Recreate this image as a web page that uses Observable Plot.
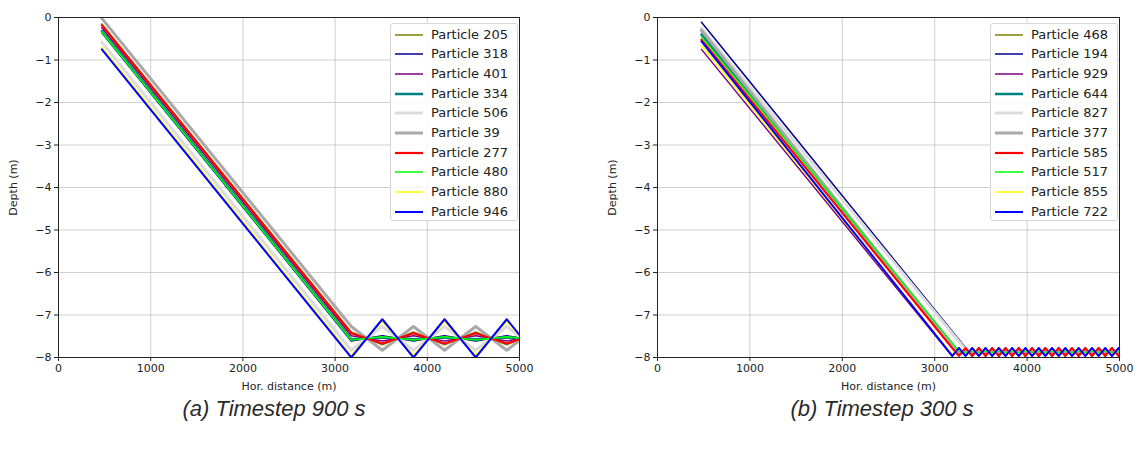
<!DOCTYPE html>
<html><head><meta charset="utf-8">
<script src="https://cdn.jsdelivr.net/npm/d3@7"></script>
<script src="https://cdn.jsdelivr.net/npm/@observablehq/plot@0.6"></script>
<style>
body{margin:0;background:#fff;}
#wrap{position:relative;width:1140px;height:451px;overflow:hidden;font-family:"DejaVu Sans",sans-serif;}
.panel{position:absolute;top:0;}
.legend{position:absolute;top:23px;width:128px;height:198px;border:1px solid #d6d6d6;border-radius:3px;background:rgba(255,255,255,0.85);box-sizing:border-box;}
.row{position:absolute;left:0;height:20px;width:128px;}
.row svg{position:absolute;left:2px;top:0;}
.row span{position:absolute;left:40px;top:1px;font-size:13px;line-height:17px;color:#222;white-space:nowrap;font-family:"DejaVu Sans",sans-serif;}
.caption{position:absolute;top:396px;width:300px;text-align:center;font-family:"Liberation Sans",Arial,sans-serif;font-style:italic;font-size:22px;color:#2a2a2a;}
</style></head>
<body><div id="wrap"></div>
<script>
// ---------- shared ticks ----------
const xTicks = [0, 1000, 2000, 3000, 4000, 5000];
const yTicks = [0, -1, -2, -3, -4, -5, -6, -7, -8];

// ---------- panel (a): timestep 900 s ----------
const namesA = ["Particle 205","Particle 318","Particle 401","Particle 334","Particle 506","Particle 39","Particle 277","Particle 480","Particle 880","Particle 946"];
const distA = [470, 3175, 3512, 3850, 4187, 4525, 4862, 5000];
const depthA205 = [-0.15, -7.40, -7.70, -7.40, -7.70, -7.40, -7.70, -7.58];
const depthA318 = [-0.36, -7.61, -7.49, -7.61, -7.49, -7.61, -7.49, -7.54];
const depthA401 = [-0.24, -7.49, -7.61, -7.49, -7.61, -7.49, -7.61, -7.56];
const depthA334 = [-0.32, -7.57, -7.53, -7.57, -7.53, -7.57, -7.53, -7.55];
const depthA506 = [-0.58, -7.83, -7.27, -7.83, -7.27, -7.83, -7.27, -7.50];
const depthA39  = [-0.02, -7.27, -7.83, -7.27, -7.83, -7.27, -7.83, -7.60];
const depthA277 = [-0.18, -7.43, -7.67, -7.43, -7.67, -7.43, -7.67, -7.57];
const depthA480 = [-0.34, -7.59, -7.51, -7.59, -7.51, -7.59, -7.51, -7.54];
const depthA880 = [-0.70, -7.95, -7.15, -7.95, -7.15, -7.95, -7.15, -7.48];
const depthA946 = [-0.75, -8.00, -7.10, -8.00, -7.10, -8.00, -7.10, -7.47];

// ---------- panel (b): timestep 300 s (null = particle not yet at the bottom) ----------
const namesB = ["Particle 468","Particle 194","Particle 929","Particle 644","Particle 827","Particle 377","Particle 585","Particle 517","Particle 855","Particle 722"];
const distB = [476, 3190, 3262, 3334, 3406, 3478, 3550, 3622, 3694, 3766, 3838, 3910, 3982, 4054, 4126, 4198, 4270, 4342, 4414, 4486, 4558, 4630, 4702, 4774, 4846, 4918, 4990, 5000];
const depthB468 = [-0.33, null,-7.90, -7.84,-7.90, -7.84,-7.90, -7.84,-7.90, -7.84,-7.90, -7.84,-7.90, -7.84,-7.90, -7.84,-7.90, -7.84,-7.90, -7.84,-7.90, -7.84,-7.90, -7.84,-7.90, -7.84,-7.90, -7.89];
const depthB194 = [-0.11, null,null, -7.77,-7.97, -7.77,-7.97, -7.77,-7.97, -7.77,-7.97, -7.77,-7.97, -7.77,-7.97, -7.77,-7.97, -7.77,-7.97, -7.77,-7.97, -7.77,-7.97, -7.77,-7.97, -7.77,-7.97, -7.94];
const depthB929 = [-0.75, -7.97,-7.77, -7.97,-7.77, -7.97,-7.77, -7.97,-7.77, -7.97,-7.77, -7.97,-7.77, -7.97,-7.77, -7.97,-7.77, -7.97,-7.77, -7.97,-7.77, -7.97,-7.77, -7.97,-7.77, -7.97,-7.77, -7.80];
const depthB644 = [-0.40, null,-7.89, -7.85,-7.89, -7.85,-7.89, -7.85,-7.89, -7.85,-7.89, -7.85,-7.89, -7.85,-7.89, -7.85,-7.89, -7.85,-7.89, -7.85,-7.89, -7.85,-7.89, -7.85,-7.89, -7.85,-7.89, -7.88];
const depthB827 = [-0.25, null,null, -7.81,-7.93, -7.81,-7.93, -7.81,-7.93, -7.81,-7.93, -7.81,-7.93, -7.81,-7.93, -7.81,-7.93, -7.81,-7.93, -7.81,-7.93, -7.81,-7.93, -7.81,-7.93, -7.81,-7.93, -7.91];
const depthB377 = [-0.30, null,-7.92, -7.82,-7.92, -7.82,-7.92, -7.82,-7.92, -7.82,-7.92, -7.82,-7.92, -7.82,-7.92, -7.82,-7.92, -7.82,-7.92, -7.82,-7.92, -7.82,-7.92, -7.82,-7.92, -7.82,-7.92, -7.91];
const depthB585 = [-0.52, -7.78,-7.96, -7.78,-7.96, -7.78,-7.96, -7.78,-7.96, -7.78,-7.96, -7.78,-7.96, -7.78,-7.96, -7.78,-7.96, -7.78,-7.96, -7.78,-7.96, -7.78,-7.96, -7.78,-7.96, -7.78,-7.96, -7.93];
const depthB517 = [-0.45, null,-7.85, -7.89,-7.85, -7.89,-7.85, -7.89,-7.85, -7.89,-7.85, -7.89,-7.85, -7.89,-7.85, -7.89,-7.85, -7.89,-7.85, -7.89,-7.85, -7.89,-7.85, -7.89,-7.85, -7.89,-7.85, -7.86];
const depthB855 = [-0.66, -7.93,-7.81, -7.93,-7.81, -7.93,-7.81, -7.93,-7.81, -7.93,-7.81, -7.93,-7.81, -7.93,-7.81, -7.93,-7.81, -7.93,-7.81, -7.93,-7.81, -7.93,-7.81, -7.93,-7.81, -7.93,-7.81, -7.83];
const depthB722 = [-0.56, -7.96,-7.78, -7.96,-7.78, -7.96,-7.78, -7.96,-7.78, -7.96,-7.78, -7.96,-7.78, -7.96,-7.78, -7.96,-7.78, -7.96,-7.78, -7.96,-7.78, -7.96,-7.78, -7.96,-7.78, -7.96,-7.78, -7.81];

// ---------- styles (same order in both panels) ----------
const lineColors = ["#808000", "#00008b", "#800080", "#008080", "#dcdcdc", "#a9a9a9", "#ff0000", "#00ff00", "#ffff00", "#0000ff"];
const lineWidths = [1.5, 1.5, 1.5, 2.5, 3, 3, 2.2, 1.5, 1.5, 2];

const seriesA = [depthA205, depthA318, depthA401, depthA334, depthA506, depthA39, depthA277, depthA480, depthA880, depthA946];
const seriesB = [depthB468, depthB194, depthB929, depthB644, depthB827, depthB377, depthB585, depthB517, depthB855, depthB722];

const fmtY = d => d < 0 ? "\u2212" + Math.abs(d) : String(d);
const fmtX = d => String(d);

function makePanel(xs, series, ml, mr, width) {
  const marks = [
    Plot.gridX(xTicks, {stroke: "#b0b0b0", strokeOpacity: 0.6}),
    Plot.gridY(yTicks, {stroke: "#b0b0b0", strokeOpacity: 0.6})
  ];
  series.forEach((ys, k) => {
    const rows = ys.map((y, i) => ({x: xs[i], y})).filter(r => r.y !== null);
    marks.push(Plot.line(rows, {x: "x", y: "y", stroke: lineColors[k], strokeWidth: lineWidths[k], clip: true}));
  });
  marks.push(Plot.frame({stroke: "#222", strokeWidth: 1}));
  marks.push(Plot.axisX(xTicks, {tickSize: 4, tickPadding: 3, tickFormat: fmtX, label: "Hor. distance (m)", labelAnchor: "center", labelArrow: "none", labelOffset: 32}));
  marks.push(Plot.axisY(yTicks, {tickSize: 4, tickPadding: 3, tickFormat: fmtY, label: "Depth (m)", labelAnchor: "center", labelArrow: "none", labelOffset: 49}));
  return Plot.plot({
    width, height: 395,
    marginLeft: ml, marginRight: mr, marginTop: 17, marginBottom: 38,
    x: {domain: [0, 5000]},
    y: {domain: [-8, 0]},
    style: {fontFamily: "DejaVu Sans, sans-serif", fontSize: "11px", color: "#222", background: "transparent"},
    marks
  });
}

function makeLegend(names, left) {
  const box = document.createElement("div");
  box.className = "legend";
  box.style.left = left + "px";
  names.forEach((n, k) => {
    const r = document.createElement("div");
    r.className = "row";
    r.style.top = (0.5 + k * 19.67) + "px";
    r.innerHTML = `<svg width="32" height="20"><line x1="2" x2="30" y1="10" y2="10" stroke="${lineColors[k]}" stroke-width="${lineWidths[k]}"/></svg><span>${n}</span>`;
    box.appendChild(r);
  });
  return box;
}

const wrap = document.getElementById("wrap");
const pA = makePanel(distA, seriesA, 58, 51, 570);
pA.classList.add("panel"); pA.style.left = "0px";
const pB = makePanel(distB, seriesB, 67, 21, 550);
pB.classList.add("panel"); pB.style.left = "590px";
wrap.appendChild(pA);
wrap.appendChild(pB);
wrap.appendChild(makeLegend(namesA, 390));
wrap.appendChild(makeLegend(namesB, 990));

const capA = document.createElement("div");
capA.className = "caption"; capA.style.left = "124px"; capA.textContent = "(a) Timestep 900 s";
const capB = document.createElement("div");
capB.className = "caption"; capB.style.left = "732px"; capB.textContent = "(b) Timestep 300 s";
wrap.appendChild(capA); wrap.appendChild(capB);
</script>
</body></html>
